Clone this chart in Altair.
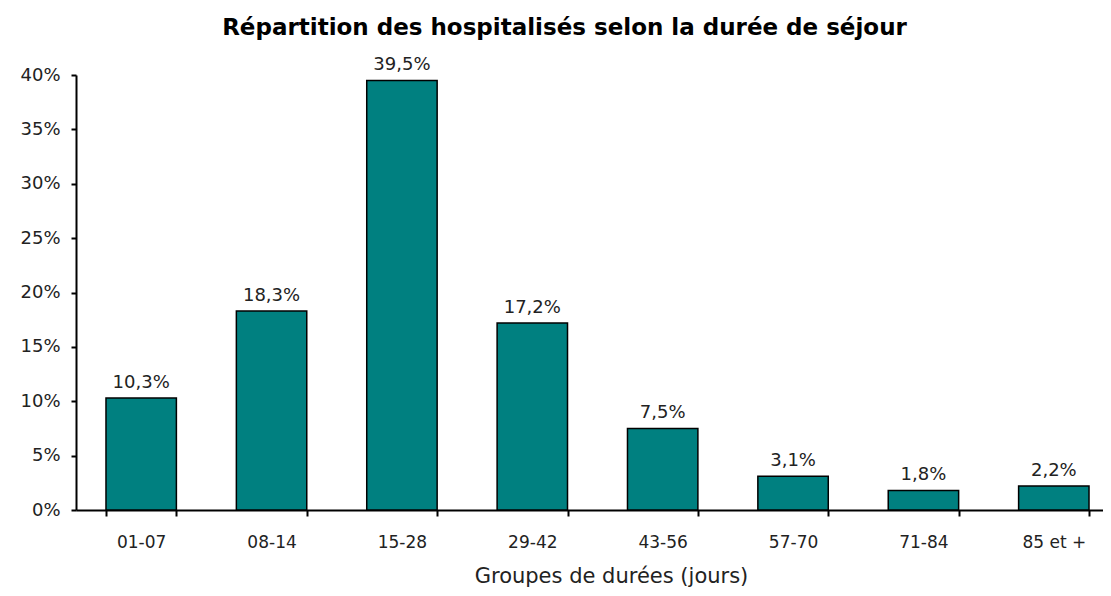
import altair as alt
import pandas as pd

categories = ["01-07", "08-14", "15-28", "29-42", "43-56", "57-70", "71-84", "85 et +"]
values = [10.3, 18.3, 39.5, 17.2, 7.5, 3.1, 1.8, 2.2]

df = pd.DataFrame({"groupe": categories, "pct": [v / 100 for v in values]})

FONT = "DejaVu Sans"
TXT = "#222222"

base = alt.Chart(df).transform_calculate(
    lab="replace(format(datum.pct, '.1%'), '.', ',')"
)

xscale = alt.Scale(range=[0, 1043], paddingInner=0.46, paddingOuter=0.23)

x = alt.X(
    "groupe:N",
    sort=categories,
    scale=xscale,
    axis=alt.Axis(
        title="Groupes de durées (jours)",
        titleX=535,
        labelAngle=0,
        tickBand="extent",
        tickSize=6,
        tickWidth=2,
        tickColor="black",
        domainColor="black",
        domainWidth=2,
        labelFont=FONT,
        labelFontSize=17,
        labelColor=TXT,
        labelPadding=18,
        titleFont=FONT,
        titleFontSize=21,
        titleFontWeight="normal",
        titleColor=TXT,
        titlePadding=15,
    ),
)

y = alt.Y(
    "pct:Q",
    scale=alt.Scale(domain=[0, 0.4]),
    axis=alt.Axis(
        title=None,
        format="%",
        values=[0, 0.05, 0.1, 0.15, 0.2, 0.25, 0.3, 0.35, 0.4],
        grid=False,
        tickSize=5,
        tickWidth=2,
        tickColor="black",
        domainColor="black",
        domainWidth=2,
        labelFont=FONT,
        labelFontSize=18,
        labelColor=TXT,
        labelPadding=11,
    ),
)

bars = base.mark_bar(color="#008080", stroke="black", strokeWidth=1.5).encode(x=x, y=y)

texts = base.mark_text(
    baseline="bottom", dy=-6, font=FONT, fontSize=18, color=TXT
).encode(x=alt.X("groupe:N", sort=categories, scale=xscale), y="pct:Q", text="lab:N")

chart = (
    (bars + texts)
    .properties(
        width=1027,
        height=435,
        autosize=alt.AutoSizeParams(type="none"),
        padding={"left": 68, "top": 67, "right": 0, "bottom": 78},
        title=alt.TitleParams(
            "Répartition des hospitalisés selon la durée de séjour",
            font=FONT,
            fontSize=23,
            fontWeight="bold",
            color="black",
            dx=-25,
            offset=16,
        ),
    )
    .configure_view(stroke=None)
)

chart.save("out.html", embed_options={"renderer": "svg", "actions": False})
